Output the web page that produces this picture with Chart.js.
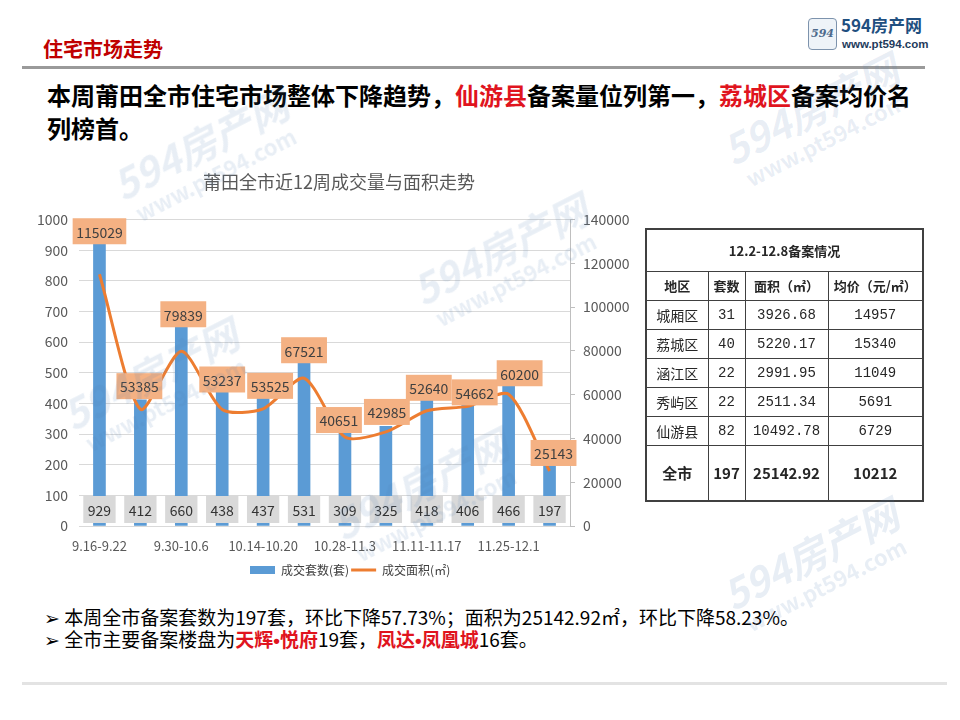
<!DOCTYPE html>
<html>
<head>
<meta charset="utf-8">
<script src="https://cdn.jsdelivr.net/npm/chart.js@4.4.1/dist/chart.umd.min.js"></script>
<style>
  body { margin: 0; background: #fff; font-family: "Noto Sans CJK SC", sans-serif; }
  #page { position: relative; width: 960px; height: 720px; overflow: hidden; background: #fff; }
  .abs { position: absolute; }
  #head { left: 43px; top: 35px; font-size: 20px; font-weight: bold; color: #c00000; line-height: 28px; }
  #rule1 { left: 22px; top: 66px; width: 903px; height: 3px; background: #9a9a9a; }
  #rule2 { left: 22px; top: 682px; width: 925px; height: 3px; background: #e3e3e3; }
  #headline { left: 47px; top: 78px; width: 868px; font-size: 24px; font-weight: bold; line-height: 33px; color: #000; }
  .red { color: #e0141e; }
  #chartBox { left: 32px; top: 160px; width: 614px; height: 426px; }
  #bullets { left: 44px; top: 606px; font-size: 19px; line-height: 22px; color: #000; white-space: nowrap; }
  #bullets .b { font-weight: bold; color: #e0141e; }
  #bullets .dot { font-family: "Liberation Sans", sans-serif; }
  #tbl { left: 645px; top: 228px; border-collapse: collapse; border: 2px solid #404040; }
  #tbl td { border: 1px solid #404040; padding: 0; text-align: center; font-size: 14px; color: #262626; }
  #tbl .num { font-family: "Liberation Mono", "DejaVu Sans Mono", monospace; font-size: 14px; }
  #tbl .hd td { font-weight: bold; font-size: 13px; }
  #tbl .tot td { font-weight: bold; font-size: 15px; }
  #logo { left: 808px; top: 16px; }
  .wm { position: absolute; color: rgba(80,125,180,0.13); transform: rotate(-27deg); transform-origin: center; white-space: nowrap; pointer-events: none; text-align: center; }
  .wm .a { font-size: 40px; font-weight: bold; font-style: italic; line-height: 44px; }
  .wm .b { font-size: 22px; font-weight: bold; line-height: 24px; }
</style>
</head>
<body>
<div id="page">
  <div id="head" class="abs">住宅市场走势</div>
  <div id="logo" class="abs">
    <div class="abs" style="left:0;top:2px;width:27px;height:30px;border:1px solid #7d93ad;border-radius:4px;background:#eef3f8;font:italic bold 11px 'DejaVu Serif';color:#4d6a8c;line-height:30px;text-align:center;">594</div>
    <div class="abs" style="left:33px;top:-2px;font-size:17px;font-weight:bold;color:#1f4f80;white-space:nowrap;line-height:22px;">594房产网</div>
    <div class="abs" style="left:34px;top:21px;font:bold 11.5px 'Liberation Sans';color:#1f3b5c;white-space:nowrap;line-height:14px;">www.pt594.com</div>
  </div>
  <div id="rule1" class="abs"></div>
  <div id="headline" class="abs">本周莆田全市住宅市场整体下降趋势，<span class="red">仙游县</span>备案量位列第一，<span class="red">荔城区</span>备案均价名列榜首。</div>

  <div id="chartBox" class="abs"><canvas id="c" width="614" height="426"></canvas></div>

  <table id="tbl" class="abs"></table>

  <div id="bullets" class="abs">
    <div>➢ 本周全市备案套数为197套，环比下降57.73%；面积为25142.92㎡，环比下降58.23%。</div>
    <div>➢ 全市主要备案楼盘为<span class="b">天辉<span class="dot">•</span>悦府</span>19套，<span class="b">凤达<span class="dot">•</span>凤凰城</span>16套。</div>
  </div>
  <div id="rule2" class="abs"></div>

  <div class="wm" style="left:110px;top:120px;"><div class="a">594房产网</div><div class="b">www.pt594.com</div></div>
  <div class="wm" style="left:410px;top:225px;"><div class="a">594房产网</div><div class="b">www.pt594.com</div></div>
  <div class="wm" style="left:720px;top:85px;"><div class="a">594房产网</div><div class="b">www.pt594.com</div></div>
  <div class="wm" style="left:60px;top:350px;"><div class="a">594房产网</div><div class="b">www.pt594.com</div></div>
  <div class="wm" style="left:330px;top:460px;"><div class="a">594房产网</div><div class="b">www.pt594.com</div></div>
  <div class="wm" style="left:720px;top:530px;"><div class="a">594房产网</div><div class="b">www.pt594.com</div></div>
</div>

<script>
// weekly series (12 weeks)
const weeks = ["9.16-9.22", "9.23-9.29", "9.30-10.6", "10.7-10.13", "10.14-10.20", "10.21-10.27",
  "10.28-11.3", "11.4-11.10", "11.11-11.17", "11.18-11.24", "11.25-12.1", "12.2-12.8"];
const units = [929, 412, 660, 438, 437, 531, 309, 325, 418, 406, 466, 197];
const area = [115029, 53385, 79839, 53237, 53525, 67521, 40651, 42985, 52640, 54662, 60200, 25143];
const unitsMax = 1000, unitsStep = 100;
const areaMax = 140000, areaStep = 20000;

// table: 12.2-12.8 records by district
const tableTitle = "12.2-12.8备案情况";
const tableHeader = ["地区", "套数", "面积（㎡）", "均价（元/㎡）"];
const districts = ["城厢区", "荔城区", "涵江区", "秀屿区", "仙游县"];
const districtUnits = [31, 40, 22, 22, 82];
const districtArea = ["3926.68", "5220.17", "2991.95", "2511.34", "10492.78"];
const districtPrice = [14957, 15340, 11049, 5691, 6729];
const totalRow = ["全市", 197, "25142.92", 10212];

// build table
const tbl = document.getElementById("tbl");
const colW = [62, 37, 83, 95];
let html = '<colgroup>' + colW.map(w => '<col style="width:' + w + 'px">').join('') + '</colgroup>';
html += '<tr class="hd" style="height:42px"><td colspan="4">' + tableTitle + '</td></tr>';
html += '<tr class="hd" style="height:29px">' + tableHeader.map(t => '<td>' + t + '</td>').join('') + '</tr>';
districts.forEach((d, i) => {
  html += '<tr style="height:29px"><td>' + d + '</td><td class="num">' + districtUnits[i] +
    '</td><td class="num">' + districtArea[i] + '</td><td class="num">' + districtPrice[i] + '</td></tr>';
});
html += '<tr class="tot" style="height:56px">' + totalRow.map(t => '<td>' + t + '</td>').join('') + '</tr>';
tbl.innerHTML = html;

// value boxes drawn like the Excel data labels
const labelBoxes = {
  id: "labelBoxes",
  afterDatasetsDraw(chart, args, opts) {
    const ctx = chart.ctx;
    ctx.save();
    ctx.font = '14px "Noto Sans CJK SC"';
    ctx.textAlign = "center";
    ctx.textBaseline = "middle";
    const bottom = chart.chartArea.bottom;
    chart.getDatasetMeta(0).data.forEach((bar, i) => {
      const txt = String(units[i]);
      const w = ctx.measureText(txt).width + 9;
      const cy = bottom - 16.5;
      ctx.fillStyle = "#d9d9d9";
      ctx.fillRect(bar.x - w / 2, cy - 13.5, w, 27);
      ctx.fillStyle = "#333";
      ctx.fillText(txt, bar.x, cy + 1);
    });
    chart.getDatasetMeta(1).data.forEach((pt, i) => {
      const txt = String(area[i]);
      const [dx, dy] = opts.offsets[i];
      const w = ctx.measureText(txt).width + 7;
      const cx = pt.x + dx, cy = pt.y + dy;
      ctx.fillStyle = "#f4b183";
      ctx.fillRect(cx - w / 2, cy - 13, w, 26);
      ctx.fillStyle = "#404040";
      ctx.fillText(txt, cx, cy + 1);
    });
    ctx.restore();
  }
};

const tickFont = { family: "Noto Sans CJK SC", size: 14 };
const baseLegendLabels = Chart.defaults.plugins.legend.labels.generateLabels;
// blank slot that nudges the legend to the right, as in the original
const legendSpacer = {
  text: "      ", fillStyle: "rgba(0,0,0,0)", strokeStyle: "rgba(0,0,0,0)",
  lineWidth: 0, pointStyle: "rect", hidden: false, datasetIndex: -1
};

new Chart(document.getElementById("c"), {
  type: "bar",
  data: {
    labels: weeks,
    datasets: [
      {
        type: "bar",
        label: "成交套数(套)",
        data: units,
        yAxisID: "y",
        backgroundColor: "#5b9bd5",
        barThickness: 12,
        pointStyle: "rect",
        order: 2
      },
      {
        type: "line",
        label: "成交面积(㎡)",
        data: area,
        yAxisID: "y2",
        borderColor: "#ed7d31",
        backgroundColor: "#ed7d31",
        borderWidth: 3,
        pointRadius: 0,
        pointStyle: "line",
        tension: 0.25,
        order: 1
      }
    ]
  },
  options: {
    responsive: false,
    animation: false,
    layout: { padding: { bottom: 0 } },
    plugins: {
      title: {
        display: true,
        text: "莆田全市近12周成交量与面积走势",
        color: "#595959",
        font: { family: "Noto Sans CJK SC", size: 18, weight: "normal" },
        padding: { top: 11, bottom: 27 }
      },
      legend: {
        position: "bottom",
        labels: {
          usePointStyle: true,
          pointStyleWidth: 25,
          boxHeight: 8,
          padding: 2,
          color: "#404040",
          font: { family: "Noto Sans CJK SC", size: 12 },
          sort: (a, b) => a.datasetIndex - b.datasetIndex,
          // wider gap between the two legend entries
          generateLabels: chart => [Object.assign({}, legendSpacer)].concat(
            baseLegendLabels(chart).map((item, i) =>
              Object.assign(item, { text: i === 0 ? item.text + "          " : item.text })))
        }
      },
      tooltip: { enabled: false },
      labelBoxes: {
        offsets: [[0, -43], [-1, -23], [2, -37], [0, -30], [7, -23], [0, -28],
          [-6, -17], [1, -20], [2, -23], [7, -14], [11, -21], [4, -18]]
      }
    },
    scales: {
      x: {
        grid: { display: false },
        border: { display: true, color: "#d9d9d9" },
        ticks: {
          autoSkip: false,
          maxRotation: 0,
          padding: 4,
          color: "#595959",
          font: { family: "Noto Sans CJK SC", size: 13 },
          callback: (v, i) => (i % 2 === 0 ? weeks[i] : "")
        },
        afterFit: s => { s.height = 36; }
      },
      y: {
        position: "left",
        min: 0,
        max: unitsMax,
        grid: { color: "#d9d9d9", drawTicks: false },
        border: { display: false },
        ticks: { stepSize: unitsStep, padding: 11, color: "#595959", font: tickFont, callback: v => String(v) },
        afterFit: s => { s.width = 47; }
      },
      y2: {
        position: "right",
        min: 0,
        max: areaMax,
        grid: { drawOnChartArea: false, drawTicks: true, tickLength: 5, color: "#bfbfbf" },
        border: { display: true, color: "#bfbfbf" },
        ticks: { stepSize: areaStep, padding: 8, color: "#595959", font: tickFont, callback: v => String(v) },
        afterFit: s => { s.width = 76; }
      }
    }
  },
  plugins: [labelBoxes]
});
</script>
</body>
</html>
